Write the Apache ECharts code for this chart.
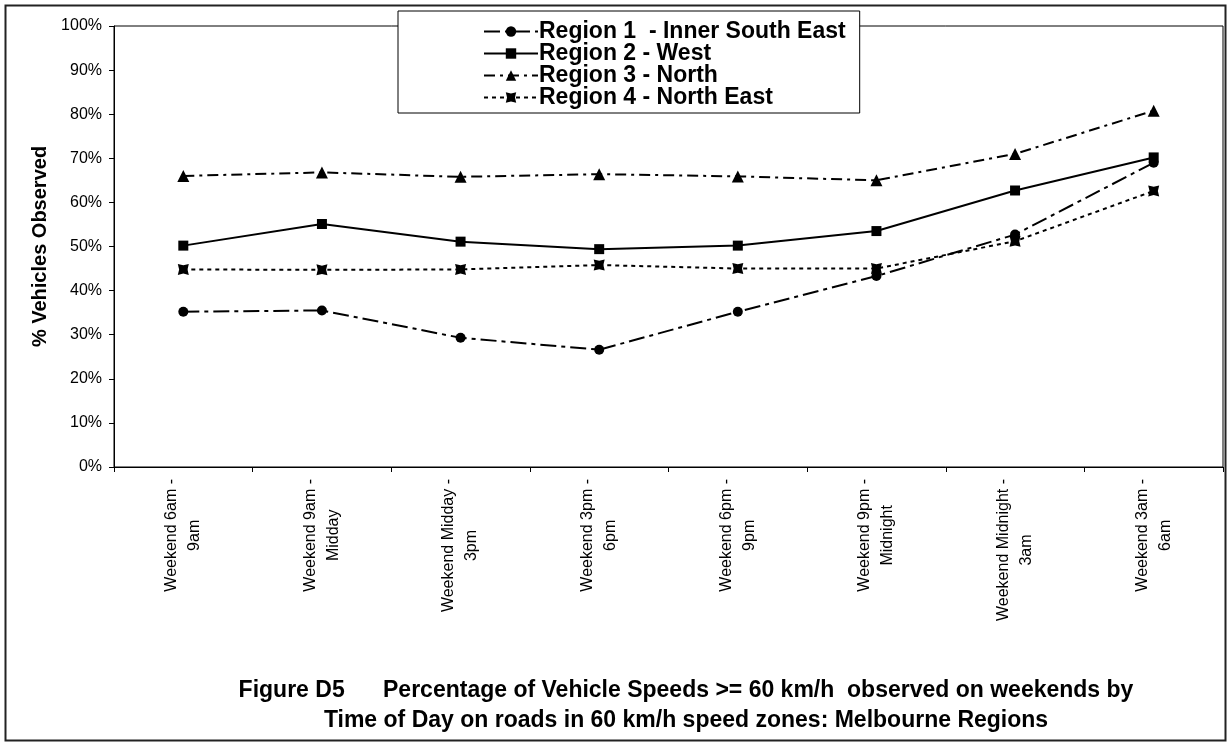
<!DOCTYPE html>
<html>
<head>
<meta charset="utf-8">
<script src="https://cdn.jsdelivr.net/npm/echarts@6/dist/echarts.min.js"></script>
<style>
  html, body { margin: 0; padding: 0; background: #fff; }
  #chart { width: 1230px; height: 743px; }
</style>
</head>
<body>
<div id="chart"></div>
<script>
// Time-of-day bands (weekend)
const categories = [
  'Weekend 6am -\n9am',
  'Weekend 9am -\nMidday',
  'Weekend Midday -\n3pm',
  'Weekend 3pm -\n6pm',
  'Weekend 6pm -\n9pm',
  'Weekend 9pm -\nMidnight',
  'Weekend Midnight -\n3am',
  'Weekend 3am -\n6am'
];

// % of vehicles observed at >= 60 km/h
const region1 = [35.2, 35.5, 29.3, 26.6, 35.2, 43.3, 52.7, 69.0];
const region2 = [50.2, 55.1, 51.1, 49.4, 50.2, 53.5, 62.7, 70.2];
const region3 = [66.0, 66.8, 65.8, 66.4, 65.9, 65.0, 71.0, 80.8];
const region4 = [44.8, 44.7, 44.8, 45.8, 45.0, 45.0, 51.2, 62.6];

const seriesNames = [
  'Region 1  - Inner South East',
  'Region 2 - West',
  'Region 3 - North',
  'Region 4 - North East'
];

const FONT = '"Liberation Sans", Arial, Helvetica, sans-serif';
const INK = '#000';

// square marker with pinched sides
const pinchedSquare = 'path://M0,0 L5,1.2 L10,0 L8.8,5 L10,10 L5,8.8 L0,10 L1.2,5 Z';

function lineSeries(name, data, symbol, size, dash) {
  return {
    name: name,
    type: 'line',
    data: data,
    symbol: symbol,
    symbolSize: size,
    showSymbol: true,
    itemStyle: { color: INK, borderWidth: 0 },
    lineStyle: { color: INK, width: 2, type: dash },
    emphasis: { disabled: true }
  };
}

const chart = echarts.init(document.getElementById('chart'), null, { renderer: 'canvas' });

chart.setOption({
  animation: false,
  backgroundColor: '#fff',
  textStyle: { fontFamily: FONT, color: INK },
  title: {
    text: 'Figure D5      Percentage of Vehicle Speeds >= 60 km/h  observed on weekends by\nTime of Day on roads in 60 km/h speed zones: Melbourne Regions',
    left: 681,
    top: 671,
    textAlign: 'center',
    textStyle: {
      fontFamily: FONT,
      fontSize: 23,
      fontWeight: 'bold',
      color: INK,
      lineHeight: 30
    }
  },
  legend: {
    orient: 'vertical',
    left: 398,
    top: 11,
    padding: [9, 14, 4, 85],
    backgroundColor: '#fff',
    borderColor: INK,
    borderWidth: 1,
    itemWidth: 54,
    itemHeight: 13,
    itemGap: -1,
    data: seriesNames,
    textStyle: {
      fontFamily: FONT,
      fontSize: 23,
      fontWeight: 'bold',
      color: INK,
      lineHeight: 21,
      padding: [0, 0, 0, -4]
    }
  },
  grid: {
    left: 114,
    right: 7,
    top: 26,
    bottom: 276,
    show: true,
    borderColor: INK,
    borderWidth: 1,
    backgroundColor: 'transparent'
  },
  xAxis: {
    type: 'category',
    data: categories,
    boundaryGap: true,
    axisLine: { lineStyle: { color: INK, width: 1 } },
    axisTick: { show: true, length: 5, inside: false, alignWithLabel: false, lineStyle: { color: INK } },
    splitLine: { show: false },
    axisLabel: {
      interval: 0,
      rotate: 90,
      margin: 12,
      formatter: function (v) {
        return v.split('\n').map(function (s) { return '{c|' + s + '}'; }).join('\n');
      },
      rich: {
        c: { align: 'center', fontFamily: FONT, fontSize: 16, color: INK, lineHeight: 23 }
      }
    }
  },
  yAxis: {
    type: 'value',
    min: 0,
    max: 100,
    interval: 10,
    name: '% Vehicles Observed',
    nameLocation: 'middle',
    nameGap: 64,
    nameTextStyle: { fontFamily: FONT, fontSize: 20, fontWeight: 'bold', color: INK },
    axisLine: { show: true, lineStyle: { color: INK, width: 1 } },
    axisTick: { show: true, length: 5, inside: false, lineStyle: { color: INK } },
    splitLine: { show: false },
    axisLabel: {
      margin: 12,
      fontFamily: FONT,
      fontSize: 16,
      color: INK,
      formatter: '{value}%'
    }
  },
  series: [
    lineSeries(seriesNames[0], region1, 'circle', 10, [16, 5, 4, 5]),
    lineSeries(seriesNames[1], region2, 'rect', 10, 'solid'),
    lineSeries(seriesNames[2], region3, 'triangle', 12, [11, 5, 3, 5]),
    lineSeries(seriesNames[3], region4, pinchedSquare, 11, [4, 4])
  ],
  graphic: [
    {
      type: 'rect',
      left: 3,
      top: 3,
      shape: { width: 1220, height: 735 },
      style: { fill: 'none', stroke: '#222', lineWidth: 2 },
      silent: true,
      z: 100
    }
  ]
});
</script>
</body>
</html>
